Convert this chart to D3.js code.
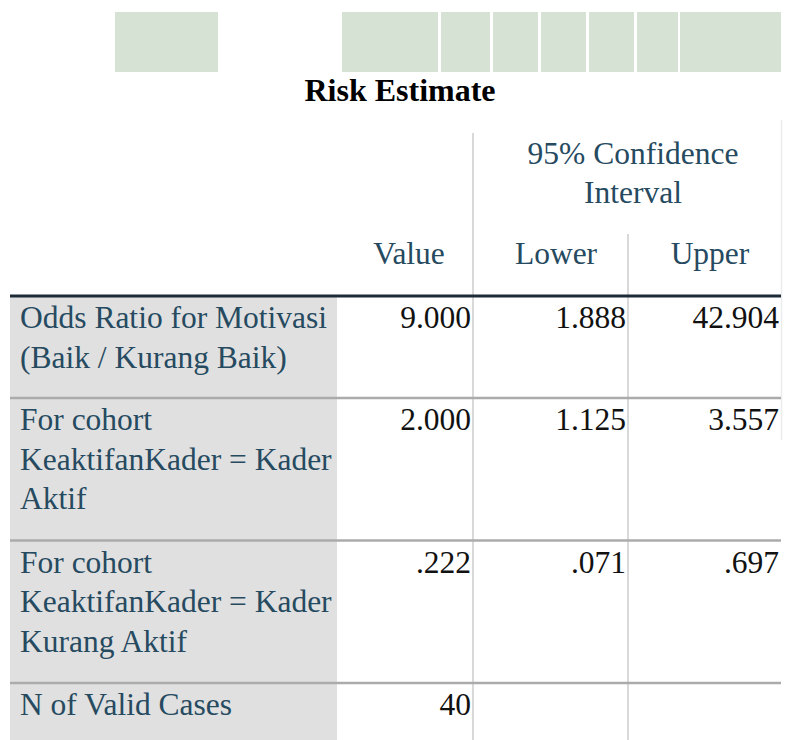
<!DOCTYPE html>
<html>
<head>
<meta charset="utf-8">
<script src="https://cdn.jsdelivr.net/npm/d3@7"></script>
<style>
  html, body { margin: 0; padding: 0; background: #fff; }
  svg { display: block; }
</style>
</head>
<body>
<svg id="chart" width="785" height="740"></svg>
<script>
// ---- data ----
const title = "Risk Estimate";
const groupHeader = ["95% Confidence", "Interval"];
const columnHeaders = ["Value", "Lower", "Upper"];
const rowLabels = [
  ["Odds Ratio for Motivasi", "(Baik / Kurang Baik)"],
  ["For cohort", "KeaktifanKader = Kader", "Aktif"],
  ["For cohort", "KeaktifanKader = Kader", "Kurang Aktif"],
  ["N of Valid Cases"]
];
const valueCol = ["9.000", "2.000", ".222", "40"];
const lowerCol = ["1.888", "1.125", ".071", ""];
const upperCol = ["42.904", "3.557", ".697", ""];
const topBlocks = [[115, 218], [342, 438], [441, 490], [493, 538], [541, 586], [589, 634], [637, 678], [680, 781]];

// ---- layout ----
const svg = d3.select("#chart");
const W = 785, H = 740;
const FONT = '"Liberation Serif", "Times New Roman", Tinos, serif';
const FS = "31.5px";
const labelColor = "#264a60";

const tableLeft = 10, tableRight = 781, labelRight = 337;
const x = d3.scaleOrdinal().domain(["label", "Value", "Lower", "Upper"]).range([20, 471, 626, 779]);
const xCenter = d3.scaleOrdinal().domain(columnHeaders).range([409, 556, 710]);

const headerLine = 296;
const lineH = 39.5;
const rowTops = [];
let acc = headerLine;
rowLabels.forEach(l => { rowTops.push(acc); acc += l.length * 40.5 + 21; });
const y = d3.scaleOrdinal().domain(d3.range(rowLabels.length)).range(rowTops);

function styleText(sel, size, color) {
  return sel.style("font-family", FONT).style("font-size", size).style("fill", color);
}

// top decorative blocks
svg.append("g").selectAll("rect").data(topBlocks).join("rect")
  .attr("x", d => d[0]).attr("y", 12)
  .attr("width", d => d[1] - d[0]).attr("height", 60)
  .attr("fill", "#d6e2d4");

// title
styleText(svg.append("text").attr("x", 400).attr("y", 101)
  .attr("text-anchor", "middle").text(title), "32px", "#000")
  .style("font-weight", "bold");

// label column background
svg.append("rect").attr("x", tableLeft).attr("y", headerLine)
  .attr("width", labelRight - tableLeft).attr("height", H - headerLine)
  .attr("fill", "#e0e0e0");

// vertical grid lines
svg.append("line").attr("x1", 473).attr("x2", 473).attr("y1", 133).attr("y2", H)
  .attr("stroke", "#d9d9d9").attr("stroke-width", 2);
svg.append("line").attr("x1", 628).attr("x2", 628).attr("y1", 234).attr("y2", H)
  .attr("stroke", "#d9d9d9").attr("stroke-width", 2);
svg.append("line").attr("x1", 781.5).attr("x2", 781.5).attr("y1", 120).attr("y2", 440)
  .attr("stroke", "#ececec").attr("stroke-width", 1.5);

// row separators
svg.append("g").selectAll("line").data(d3.range(1, rowLabels.length)).join("line")
  .attr("x1", tableLeft).attr("x2", tableRight)
  .attr("y1", i => y(i)).attr("y2", i => y(i))
  .attr("stroke", "#ababab").attr("stroke-width", 2.5);

// header thick line
svg.append("line").attr("x1", tableLeft).attr("x2", tableRight)
  .attr("y1", headerLine).attr("y2", headerLine)
  .attr("stroke", "#1c2b36").attr("stroke-width", 3);

// headers
const hdr = svg.append("g").attr("text-anchor", "middle");
styleText(hdr.selectAll("text.g").data(groupHeader).join("text").attr("class", "g")
  .attr("x", 633).attr("y", (d, i) => 164 + i * 39).text(d => d), FS, labelColor);
styleText(hdr.selectAll("text.c").data(columnHeaders).join("text").attr("class", "c")
  .attr("x", d => xCenter(d)).attr("y", 264).text(d => d), FS, labelColor);

// row labels
const lbl = svg.append("g");
rowLabels.forEach((lines, i) => {
  styleText(lbl.selectAll(null).data(lines).join("text")
    .attr("x", x("label")).attr("y", (d, k) => y(i) + 32 + k * lineH)
    .text(d => d), FS, labelColor);
});

// values
const vals = svg.append("g").attr("text-anchor", "end");
[["Value", valueCol], ["Lower", lowerCol], ["Upper", upperCol]].forEach(([key, arr]) => {
  styleText(vals.selectAll(null).data(arr).join("text")
    .attr("x", x(key)).attr("y", (d, i) => y(i) + 32)
    .text(d => d), FS, "#111");
});
</script>
</body>
</html>
